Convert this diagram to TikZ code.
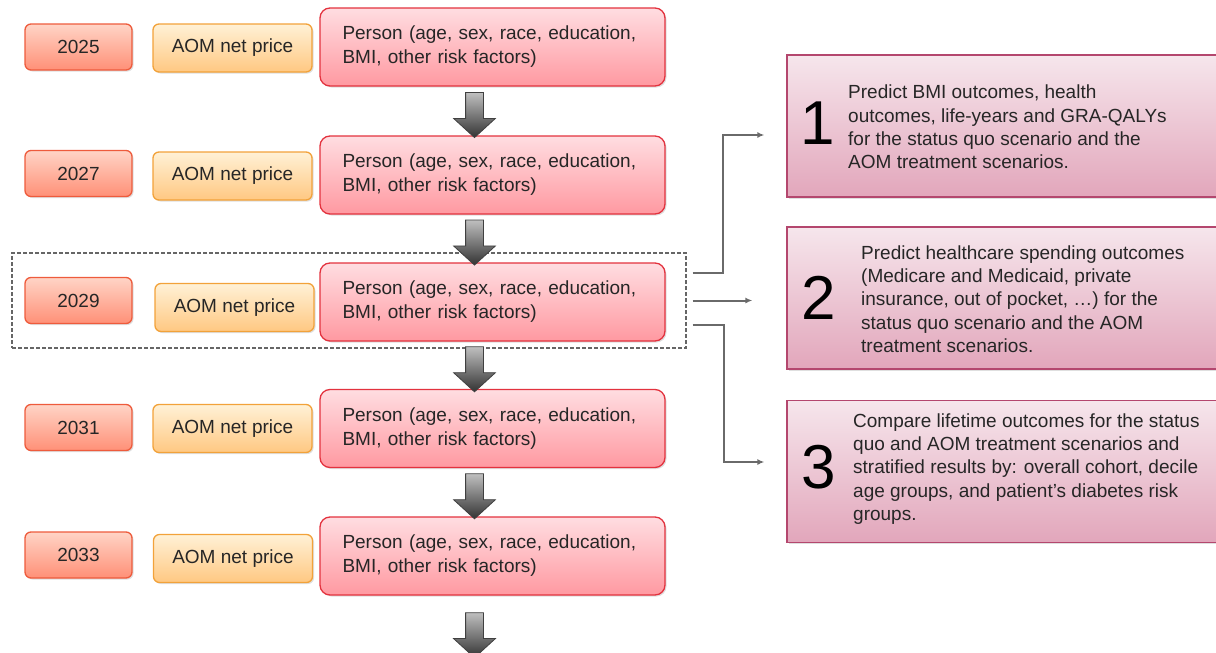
\documentclass[tikz,border=0pt]{standalone}
\usepackage{fontspec}
\setmainfont{Liberation Sans}
\usetikzlibrary{positioning, arrows.meta, shapes.arrows, shadows, calc}

\definecolor{yeartop}{HTML}{FFD4C6}
\definecolor{yearbot}{HTML}{FF9077}
\definecolor{yearline}{HTML}{EE5B3C}
\definecolor{pricetop}{HTML}{FFF1D6}
\definecolor{pricebot}{HTML}{FFC882}
\definecolor{priceline}{HTML}{F2A23A}
\definecolor{persontop}{HTML}{FFDDE1}
\definecolor{personbot}{HTML}{FF99A1}
\definecolor{personline}{HTML}{E3323E}
\definecolor{steptop}{HTML}{F6E6EC}
\definecolor{stepbot}{HTML}{E2A6BB}
\definecolor{stepline}{HTML}{B4476E}
\definecolor{linkgray}{HTML}{6A6A6A}

\tikzset{
  shade/.style={drop shadow={shadow xshift=1.5pt, shadow yshift=-1.5pt, opacity=0.25}},
  boxtext/.style={font=\fontsize{19}{24}\selectfont, text=black!85},
  yearbox/.style={boxtext, shade, draw=yearline, line width=1.3pt, top color=yeartop, bottom color=yearbot,
    rounded corners=6pt, minimum width=107pt, minimum height=46pt},
  pricebox/.style={boxtext, shade, draw=priceline, line width=1.3pt, top color=pricetop, bottom color=pricebot,
    rounded corners=6pt, minimum width=159pt, minimum height=48pt},
  personbox/.style={boxtext, shade, draw=personline, line width=1.3pt, top color=persontop, bottom color=personbot,
    rounded corners=10pt, minimum width=345pt, minimum height=78pt, text width=300pt, align=left},
  stepbox/.style={shade, draw=stepline, line width=1.3pt, top color=steptop, bottom color=stepbot,
    minimum width=435pt, minimum height=142pt},
  stepnum/.style={font=\fontsize{62}{62}\selectfont, inner sep=0pt},
  steptext/.style={boxtext, anchor=west, align=left, inner sep=0pt, font=\fontsize{19}{23.3}\selectfont},
  fatarrow/.style={single arrow, shape border rotate=270, draw=black!75, line width=0.8pt,
    top color=black!25, bottom color=black!80, minimum height=45pt, inner sep=8.5pt,
    single arrow head extend=12pt, single arrow tip angle=95},
  dashframe/.style={draw=black!60, dash pattern=on 4pt off 2pt, line width=1.2pt,
    minimum width=674pt, minimum height=95pt},
  link/.style={draw=linkgray, line width=2pt, -{Latex[length=7pt, width=6pt]}}
}

\begin{document}
\begin{tikzpicture}[x=1pt, y=-1pt]
  \useasboundingbox (0,0) rectangle (1216,653);

  % highlighted year
  \node[dashframe] (frame) at (349,300.5) {};

  % years
  \node[yearbox] (y1) at (78.5,47) {2025};
  \node[yearbox] (y2) at (78.5,173.5) {2027};
  \node[yearbox] (y3) at (78.5,300.5) {2029};
  \node[yearbox] (y4) at (78.5,427.5) {2031};
  \node[yearbox] (y5) at (78.5,555) {2033};

  % prices
  \node[pricebox] (c1) at (232.5,48) {AOM net price};
  \node[pricebox] (c2) at (232.5,176) {AOM net price};
  \node[pricebox] (c3) at (234.5,307.5) {AOM net price};
  \node[pricebox] (c4) at (232.5,428.5) {AOM net price};
  \node[pricebox] (c5) at (233,558.5) {AOM net price};

  % persons
  \node[personbox] (p1) at (492.5,47) {Person (age, sex, race, education,\\BMI, other risk factors)};
  \node[personbox] (p2) at (492.5,175) {Person (age, sex, race, education,\\BMI, other risk factors)};
  \node[personbox] (p3) at (492.5,302) {Person (age, sex, race, education,\\BMI, other risk factors)};
  \node[personbox] (p4) at (492.5,428.5) {Person (age, sex, race, education,\\BMI, other risk factors)};
  \node[personbox] (p5) at (492.5,556) {Person (age, sex, race, education,\\BMI, other risk factors)};

  % transitions
  \node[fatarrow, xshift=-18pt] (a1) at ($(p1.south)!.5!(p2.north)$) {};
  \node[fatarrow, xshift=-18pt] (a2) at ($(p2.south)!.5!(p3.north)$) {};
  \node[fatarrow, xshift=-18pt] (a3) at ($(p3.south)!.5!(p4.north)$) {};
  \node[fatarrow, xshift=-18pt] (a4) at ($(p4.south)!.5!(p5.north)$) {};
  \node[fatarrow, xshift=-18pt] (a5) at ($(p5.south)+(0,35.5)$) {};

  % outputs
  \node[stepbox] (s1) at (1004.5,126) {};
  \node[stepnum] (n1) at (818,123) {1};
  \node[steptext] (t1) at (848,127) {Predict BMI outcomes, health\\outcomes, life-years and GRA-QALYs\\for the status quo scenario and the\\AOM treatment scenarios.};

  \node[stepbox] (s2) at (1004.5,298) {};
  \node[stepnum] (n2) at (819,298) {2};
  \node[steptext] (t2) at (861,299) {Predict healthcare spending outcomes\\(Medicare and Medicaid, private\\insurance, out of pocket, \dots) for the\\status quo scenario and the AOM\\treatment scenarios.};

  \node[stepbox] (s3) at (1004.5,471.5) {};
  \node[stepnum] (n3) at (819,467) {3};
  \node[steptext] (t3) at (853,469) {Compare lifetime outcomes for the status\\quo and AOM treatment scenarios and\\stratified results by: overall cohort, decile\\age groups, and patient’s diabetes risk\\groups.};

  % links
  \draw[link] ([xshift=6pt,yshift=27.5pt]frame.east) -- ++(30,0) |- ([xshift=-22pt,yshift=-9pt]s1.west);
  \draw[link] ([xshift=6pt]frame.east) -- ([xshift=-34pt]s2.west |- frame.east);
  \draw[link] ([xshift=6pt,yshift=-24.5pt]frame.east) -- ++(31,0) |- ([xshift=-22pt,yshift=9.5pt]s3.west);
\end{tikzpicture}
\end{document}
